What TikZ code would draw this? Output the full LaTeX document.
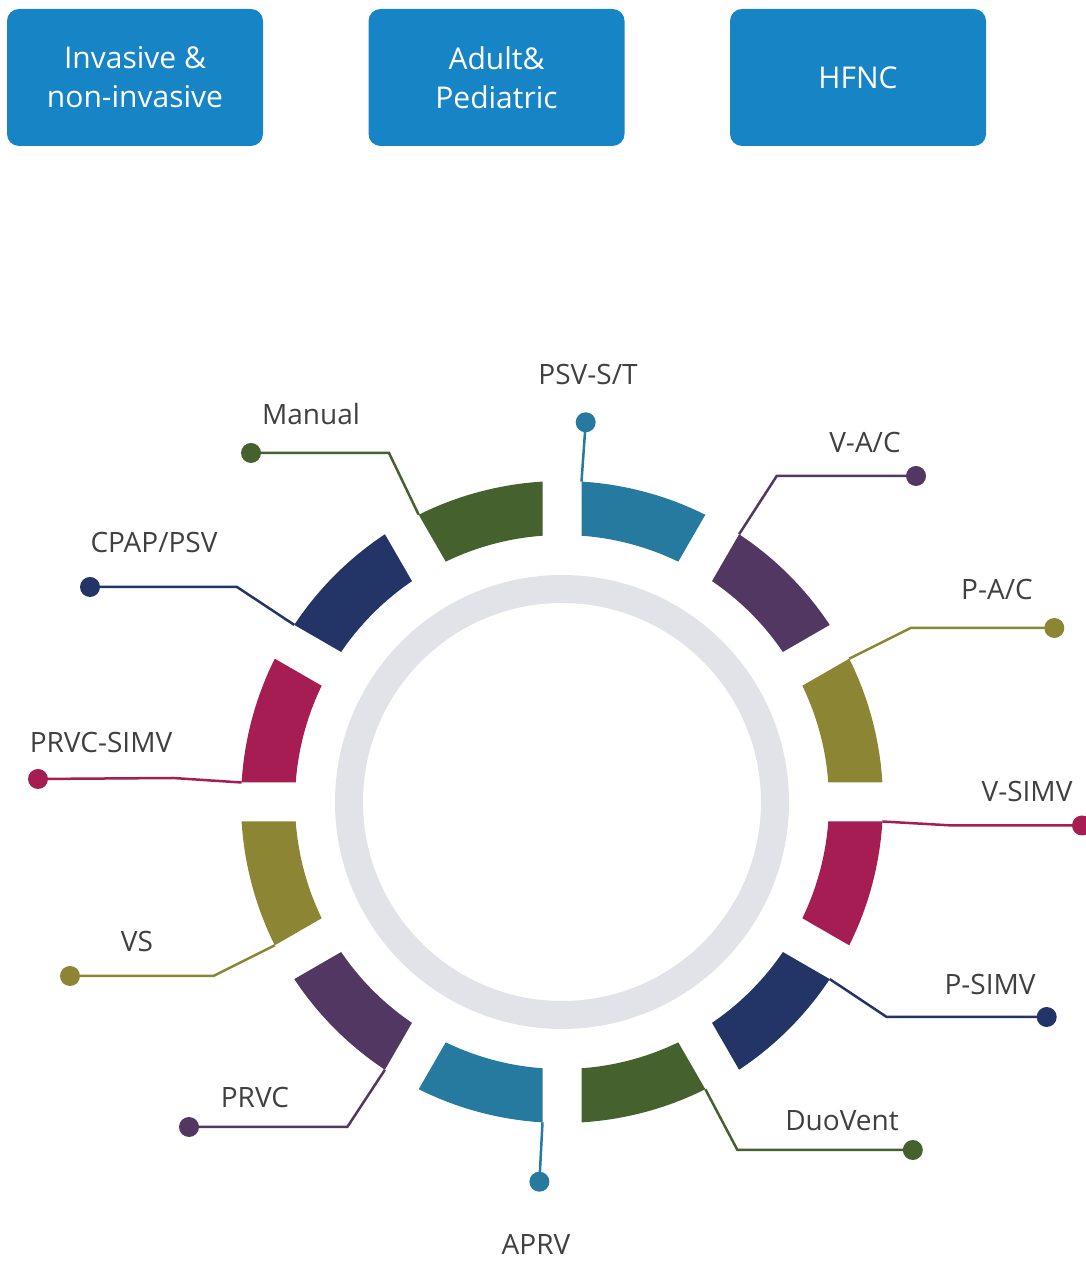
\documentclass[tikz,border=0pt]{standalone}
\usepackage{fontspec}
\setmainfont{Open Sans}
\usetikzlibrary{calc}
\definecolor{cteal}{HTML}{26799F}
\definecolor{cpurple}{HTML}{523762}
\definecolor{colive}{HTML}{8C8533}
\definecolor{cmag}{HTML}{A51D53}
\definecolor{cnavy}{HTML}{233466}
\definecolor{cgreen}{HTML}{45612D}
\definecolor{boxblue}{HTML}{1784C6}
\definecolor{ringgray}{HTML}{E2E3E9}
\definecolor{textgray}{HTML}{404040}
\begin{document}
\begin{tikzpicture}[x=1pt,y=1pt,
  lead/.style={draw=#1, line width=2.5pt, line join=miter},
  dotnode/.style={circle, fill=#1, inner sep=0pt, minimum size=20pt},
  lbl/.style={anchor=base, text=textgray, font=\fontsize{28}{34}\selectfont, inner sep=0pt},
  topbox/.style={fill=boxblue, rounded corners=12pt, minimum width=256pt, minimum height=137pt, text=white, align=center, font=\fontsize{30}{39}\selectfont}]
\useasboundingbox (0,0) rectangle (1086,1261);
\coordinate (C) at (562,459);
% top boxes
\node[topbox] (b1) at (135,1183.5) {Invasive \&\\non-invasive};
\node[topbox] (b2) at (496.5,1183.5) {Adult\&\\Pediatric};
\node[topbox] (b3) at (858,1183.5) {HFNC};
% gray ring
\fill[ringgray, even odd rule] (C) circle[radius=227] (C) circle[radius=199];
% segments
\foreach \a/\c/\n in {90/cteal/psv, 60/cpurple/vac, 30/colive/pac, 0/cmag/vsimv, -30/cnavy/psimv, -60/cgreen/duo, -90/cteal/aprv, -120/cpurple/prvc, -150/colive/vs, 180/cmag/prvcsimv, 150/cnavy/cpap, 120/cgreen/manual}{
  \fill[\c, shift={(C)}] (\a-3.483:321) arc[start angle=\a-3.483, end angle=\a-30+3.483, radius=321] -- (\a-30+4.188:267) arc[start angle=\a-30+4.188, end angle=\a-4.188, radius=267] -- cycle;
  \coordinate (a-\n) at ($(C)+(\a-3.483:321)$);
}
% knees
\coordinate (k-vac) at (776.7,785);
\coordinate (k-pac) at (910.7,633);
\coordinate (k-vsimv) at (953,435.5);
\coordinate (k-psimv) at (886.7,244);
\coordinate (k-duo) at (737.4,111);
\coordinate (k-prvc) at (347.3,134);
\coordinate (k-vs) at (213.3,285);
\coordinate (k-prvcsimv) at (173,483);
\coordinate (k-cpap) at (237,674);
\coordinate (k-manual) at (389,808);
% dots
\node[dotnode=cteal] (d-psv) at (585.7,838.7) {};
\node[dotnode=cpurple] (d-vac) at (916,785) {};
\node[dotnode=colive] (d-pac) at (1054.3,633) {};
\node[dotnode=cmag] (d-vsimv) at (1082,435.5) {};
\node[dotnode=cnavy] (d-psimv) at (1046.7,244) {};
\node[dotnode=cgreen] (d-duo) at (912.8,111) {};
\node[dotnode=cteal] (d-aprv) at (539.4,79.3) {};
\node[dotnode=cpurple] (d-prvc) at (189,134) {};
\node[dotnode=colive] (d-vs) at (70,285) {};
\node[dotnode=cmag] (d-prvcsimv) at (38,482) {};
\node[dotnode=cnavy] (d-cpap) at (90,674) {};
\node[dotnode=cgreen] (d-manual) at (251,808) {};
% leaders
\draw[lead=cteal] (a-psv) -- (d-psv.center);
\draw[lead=cpurple] (a-vac) -- (k-vac) -- (d-vac.center);
\draw[lead=colive] (a-pac) -- (k-pac) -- (d-pac.center);
\draw[lead=cmag] (a-vsimv) -- (k-vsimv) -- (d-vsimv.center);
\draw[lead=cnavy] (a-psimv) -- (k-psimv) -- (d-psimv.center);
\draw[lead=cgreen] (a-duo) -- (k-duo) -- (d-duo.center);
\draw[lead=cteal] (a-aprv) -- (d-aprv.center);
\draw[lead=cpurple] (a-prvc) -- (k-prvc) -- (d-prvc.center);
\draw[lead=colive] (a-vs) -- (k-vs) -- (d-vs.center);
\draw[lead=cmag] (a-prvcsimv) -- (k-prvcsimv) -- (d-prvcsimv.center);
\draw[lead=cnavy] (a-cpap) -- (k-cpap) -- (d-cpap.center);
\draw[lead=cgreen] (a-manual) -- (k-manual) -- (d-manual.center);
% labels
\node[lbl] (l-psv) at (588,876) {PSV-S/T};
\node[lbl] (l-vac) at (865,808) {V-A/C};
\node[lbl] (l-pac) at (997,661) {P-A/C};
\node[lbl] (l-vsimv) at (1027,459) {V-SIMV};
\node[lbl] (l-psimv) at (990,266) {P-SIMV};
\node[lbl] (l-duo) at (842,130) {DuoVent};
\node[lbl] (l-aprv) at (536,6) {APRV};
\node[lbl] (l-prvc) at (255,153) {PRVC};
\node[lbl] (l-vs) at (137,309) {VS};
\node[lbl] (l-prvcsimv) at (101,508) {PRVC-SIMV};
\node[lbl] (l-cpap) at (154,708) {CPAP/PSV};
\node[lbl] (l-manual) at (311,836) {Manual};
\end{tikzpicture}
\end{document}
